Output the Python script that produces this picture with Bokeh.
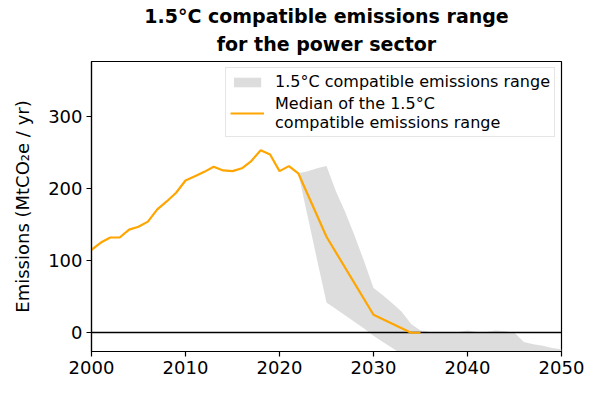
from bokeh.plotting import figure
from bokeh.models import Range1d, Legend, LegendItem, FixedTicker, Title
from bokeh.embed import file_html
from bokeh.resources import INLINE

# Median of the 1.5°C compatible emissions range (historical + pathway)
median_years = [2000, 2001, 2002, 2003, 2004, 2005, 2006, 2007, 2008, 2009,
                2010, 2011, 2012, 2013, 2014, 2015, 2016, 2017, 2018, 2019,
                2020, 2021, 2022, 2025, 2030, 2034, 2035]
median_values = [115, 125, 132, 132, 143, 147, 154, 171, 182, 194,
                 211, 217, 223, 230, 225, 224, 228, 238, 253, 247,
                 224, 231, 221, 133, 25, 0, 0]

# 1.5°C compatible emissions range
band_years = [2022, 2023, 2024, 2025, 2026, 2027, 2028, 2029, 2030, 2031,
              2032, 2033, 2034, 2035, 2036, 2037, 2038, 2039, 2040, 2041,
              2042, 2043, 2044, 2045, 2046, 2047, 2048, 2049, 2050]
band_upper = [221, 224, 228, 231, 196, 167, 134, 99, 62, 52,
              41, 29, 12, 3, 1, 1, 1, 1, 3, 1,
              1, 3, 2, 0, -13, -16, -18, -21, -23]
band_lower = [221, 161, 101, 42, 33, 24, 15, 6, -4, -13,
              -21, -30, -35, -40, -42, -44, -46, -48, -50, -52,
              -54, -56, -58, -60, -62, -64, -66, -68, -70]

x_ticks = [2000, 2010, 2020, 2030, 2040, 2050]
y_ticks = [0, 100, 200, 300]

title_line1 = "1.5°C compatible emissions range"
title_line2 = "for the power sector"
y_label = "Emissions (MtCO\u2082e / yr)"
label_band = "1.5°C compatible emissions range"
label_median = "Median of the 1.5°C\ncompatible emissions range"

FONT = "DejaVu Sans"

p = figure(frame_width=470, frame_height=290,
           x_range=Range1d(2000, 2050), y_range=Range1d(-26, 376),
           output_backend="svg", toolbar_location=None,
           min_border_left=91, min_border_right=31,
           min_border_top=61, min_border_bottom=40)

p.title.text = title_line1
p.title.align = "center"
p.title.text_font = FONT
p.title.text_font_size = "19px"
p.title.text_font_style = "bold"
p.title.text_color = "black"
p.title.standoff = -5

t2 = Title(text=title_line2, align="center", text_font=FONT, text_font_size="19px",
           text_font_style="bold", text_color="black", standoff=13)
p.add_layout(t2, "above")

band = p.varea(x=band_years, y1=band_lower, y2=band_upper, fill_color="#dddddd")
p.hspan(y=[0], line_color="black", line_width=1.5)
med = p.line(x=median_years, y=median_values, line_color="#FFA500", line_width=2.2)

p.xgrid.visible = False
p.ygrid.visible = False
p.outline_line_color = "black"
p.outline_line_width = 1.2
p.outline_line_alpha = 1.0

p.xaxis.ticker = FixedTicker(ticks=x_ticks)
p.yaxis.ticker = FixedTicker(ticks=y_ticks)
for ax in (p.xaxis[0], p.yaxis[0]):
    ax.axis_line_color = "black"
    ax.axis_line_width = 1.2
    ax.major_tick_line_color = "black"
    ax.major_tick_line_width = 1.2
    ax.major_tick_in = 0
    ax.major_tick_out = 5
    ax.minor_tick_line_color = None
    ax.major_label_text_font = FONT
    ax.major_label_text_font_size = "18px"
    ax.major_label_text_color = "black"
    ax.major_label_standoff = 4

p.yaxis.axis_label = y_label
p.yaxis.axis_label_text_font = FONT
p.yaxis.axis_label_text_font_size = "18px"
p.yaxis.axis_label_text_font_style = "normal"
p.yaxis.axis_label_text_color = "black"
p.yaxis.axis_label_standoff = 12

legend = Legend(items=[LegendItem(label=label_band, renderers=[band]),
                       LegendItem(label=label_median, renderers=[med])],
                location="top_right")
legend.label_text_font = FONT
legend.label_text_font_size = "16px"
legend.label_text_color = "black"
legend.border_line_color = "#cccccc"
legend.border_line_width = 1
legend.margin = 6
legend.padding = 4
legend.spacing = 3
legend.glyph_width = 34
legend.glyph_height = 12
legend.label_standoff = 11
legend.background_fill_alpha = 0.8
p.add_layout(legend)

open("out.html", "w").write(file_html(p, INLINE))
